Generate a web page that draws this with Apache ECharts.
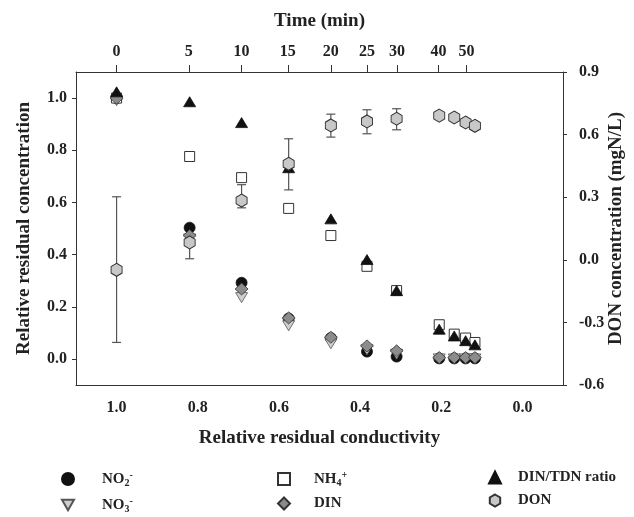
<!DOCTYPE html>
<html>
<head>
<meta charset="utf-8">
<script src="https://cdn.jsdelivr.net/npm/echarts@6/dist/echarts.min.js"></script>
<style>
html,body{margin:0;padding:0;background:#fff;}
#c{width:634px;height:517px;}
</style>
</head>
<body>
<div id="c"></div>
<script>
// Relative residual conductivity of each sample (x positions)
const conductivity = [1.0, 0.820, 0.692, 0.576, 0.472, 0.383, 0.310, 0.205, 0.168, 0.140, 0.117];
// Left axis: relative residual concentration
const no2 = [1.00, 0.503, 0.292, 0.155, 0.080, 0.028, 0.009, 0.002, 0.002, 0.002, 0.002];
const no3 = [0.99, 0.460, 0.235, 0.127, 0.058, 0.035, 0.018, 0.000, 0.000, 0.000, 0.000];
const nh4 = [1.00, 0.776, 0.695, 0.577, 0.473, 0.355, 0.262, 0.131, 0.095, 0.080, 0.063];
const din = [1.00, 0.473, 0.268, 0.157, 0.083, 0.050, 0.031, 0.005, 0.005, 0.005, 0.005];
const dinTdnRatio = [1.024, 0.986, 0.906, 0.733, 0.537, 0.381, 0.262, 0.114, 0.088, 0.070, 0.054];
// Right axis: DON concentration (mgN/L)
const don = [-0.048, 0.083, 0.284, 0.460, 0.644, 0.663, 0.676, 0.691, 0.682, 0.658, 0.642];
// DON error bars (only first seven samples)
const donErrX = [1.0, 0.820, 0.692, 0.576, 0.472, 0.383, 0.310];
const donLow  = [-0.396, 0.005, 0.249, 0.335, 0.588, 0.604, 0.623];
const donHigh = [0.302, 0.160, 0.360, 0.580, 0.698, 0.719, 0.724];
// Top axis: time (min) ticks and their conductivity positions
const timeLabels = [0, 5, 10, 15, 20, 25, 30, 40, 50];
const timePos = [1.0, 0.822, 0.692, 0.578, 0.472, 0.383, 0.309, 0.207, 0.138];
// Tick labels
const xTicks = [1.0, 0.8, 0.6, 0.4, 0.2, 0.0];
const yLeftTicks = [0.0, 0.2, 0.4, 0.6, 0.8, 1.0];

const FONT = 'Liberation Serif';
const TXT = '#222';
const AX = '#333';

function pairs(xs, ys) { return xs.map((x, i) => [x, ys[i]]); }

const hexPath = 'path://M0,-1 L0.866,-0.5 L0.866,0.5 L0,1 L-0.866,0.5 L-0.866,-0.5 Z';
const downTri = 'path://M-1,-0.866 L1,-0.866 L0,0.866 Z';

const labelBase = { fontFamily: FONT, fontWeight: 'bold', fontSize: 16, color: TXT };
const nameBase = { fontFamily: FONT, fontWeight: 'bold', fontSize: 19, color: TXT };

const chart = echarts.init(document.getElementById('c'), null, { renderer: 'canvas' });

const legendNames = {
  'NO2-': '{b|NO}{sub|2}{sup|-}',
  'NO3-': '{b|NO}{sub|3}{sup|-}',
  'NH4+': '{b|NH}{sub|4}{sup|+}',
  'DIN': '{b|DIN}',
  'DIN/TDN ratio': '{b|DIN/TDN ratio}',
  'DON': '{b|DON}'
};
function legendText(gap) {
  return {
    fontFamily: FONT, fontWeight: 'bold', fontSize: 15, color: TXT,
    rich: {
      g: { width: gap, lineHeight: 18 },
      b: { fontFamily: FONT, fontWeight: 'bold', fontSize: 15, color: TXT, lineHeight: 18 },
      sub: { fontFamily: FONT, fontWeight: 'bold', fontSize: 10, color: TXT, verticalAlign: 'bottom', lineHeight: 18 },
      sup: { fontFamily: FONT, fontWeight: 'bold', fontSize: 10, color: TXT, verticalAlign: 'top', lineHeight: 18 }
    }
  };
}
function mkLegend(names, left, gap) {
  return {
    data: names, orient: 'vertical', left: left, top: 470, height: 60, padding: 0,
    itemWidth: 12, itemHeight: 12, itemGap: 8,
    selectedMode: false, formatter: n => '{g|}' + legendNames[n], textStyle: legendText(gap)
  };
}

const option = {
  animation: false,
  backgroundColor: '#fff',
  grid: { left: 76, right: 71, top: 72, bottom: 132, containLabel: false, outerBoundsMode: 'none' },
  legend: [
    mkLegend(['NO2-', { name: 'NO3-', icon: downTri }], 61, 23),
    mkLegend(['NH4+', 'DIN'], 277, 19),
    mkLegend(['DIN/TDN ratio', 'DON'], 488, 12)
  ],
  xAxis: [
    {
      type: 'value', inverse: true, min: -0.1, max: 1.1, position: 'bottom',
      name: 'Relative residual conductivity', nameLocation: 'middle', nameGap: 44,
      nameTextStyle: nameBase,
      axisLine: { show: true, onZero: false, lineStyle: { color: AX, width: 1 } },
      axisTick: { show: false },
      splitLine: { show: false },
      axisLabel: Object.assign({ customValues: xTicks, margin: 15, formatter: v => v.toFixed(1) }, labelBase)
    },
    {
      type: 'value', inverse: true, min: -0.1, max: 1.1, position: 'top',
      name: 'Time (min)', nameLocation: 'middle', nameGap: 41,
      nameTextStyle: nameBase,
      axisLine: { show: true, onZero: false, lineStyle: { color: AX, width: 1 } },
      axisTick: { show: true, customValues: timePos, length: 7, inside: false, lineStyle: { color: AX } },
      splitLine: { show: false },
      axisLabel: Object.assign({
        customValues: timePos, margin: 12,
        formatter: v => {
          const i = timePos.findIndex(p => Math.abs(p - v) < 1e-6);
          return i >= 0 ? String(timeLabels[i]) : '';
        }
      }, labelBase)
    }
  ],
  yAxis: [
    {
      type: 'value', min: -0.1, max: 1.1, position: 'left',
      name: 'Relative residual concentration', nameLocation: 'middle', nameGap: 42, nameRotate: 90,
      nameTextStyle: nameBase,
      axisLine: { show: true, onZero: false, lineStyle: { color: AX, width: 1 } },
      axisTick: { show: true, customValues: yLeftTicks, length: 4, lineStyle: { color: AX } },
      splitLine: { show: false },
      axisLabel: Object.assign({ customValues: yLeftTicks, margin: 9, formatter: v => v.toFixed(1) }, labelBase)
    },
    {
      type: 'value', min: -0.6, max: 0.9, interval: 0.3, position: 'right',
      name: 'DON concentration (mgN/L)', nameLocation: 'middle', nameGap: 44, nameRotate: 90,
      nameMoveOverlap: false,
      nameTextStyle: nameBase,
      axisLine: { show: true, onZero: false, lineStyle: { color: AX, width: 1 } },
      axisTick: { show: true, length: 4, lineStyle: { color: AX } },
      splitLine: { show: false },
      axisLabel: Object.assign({ margin: 16, formatter: v => v.toFixed(1) }, labelBase)
    }
  ],
  series: [
    {
      name: 'DON error', type: 'custom', xAxisIndex: 0, yAxisIndex: 1, z: 1, silent: true,
      data: donErrX.map((x, i) => [x, donLow[i], donHigh[i]]),
      renderItem: function (params, api) {
        const x = api.value(0);
        const lo = api.coord([x, api.value(1)]);
        const hi = api.coord([x, api.value(2)]);
        const hw = 4.5;
        const st = { stroke: '#555', lineWidth: 1.2 };
        return {
          type: 'group',
          children: [
            { type: 'line', shape: { x1: lo[0], y1: lo[1], x2: hi[0], y2: hi[1] }, style: st },
            { type: 'line', shape: { x1: lo[0] - hw, y1: lo[1], x2: lo[0] + hw, y2: lo[1] }, style: st },
            { type: 'line', shape: { x1: hi[0] - hw, y1: hi[1], x2: hi[0] + hw, y2: hi[1] }, style: st }
          ]
        };
      }
    },
    {
      name: 'NO2-', type: 'scatter', xAxisIndex: 0, yAxisIndex: 0, z: 2,
      symbol: 'circle', symbolSize: 11,
      itemStyle: { color: '#111', borderColor: '#111', borderWidth: 0.8, opacity: 1 },
      data: pairs(conductivity, no2)
    },
    {
      name: 'NO3-', type: 'scatter', xAxisIndex: 0, yAxisIndex: 0, z: 3,
      symbol: downTri, symbolSize: [12, 10], symbolKeepAspect: false,
      itemStyle: { color: '#cfcfcf', borderColor: '#555', borderWidth: 0.8, opacity: 1 },
      data: pairs(conductivity, no3)
    },
    {
      name: 'NH4+', type: 'scatter', xAxisIndex: 0, yAxisIndex: 0, z: 4,
      symbol: 'rect', symbolSize: 10,
      itemStyle: { color: '#fff', borderColor: '#333', borderWidth: 1, opacity: 1 },
      data: pairs(conductivity, nh4)
    },
    {
      name: 'DIN', type: 'scatter', xAxisIndex: 0, yAxisIndex: 0, z: 5,
      symbol: 'diamond', symbolSize: [13, 12],
      itemStyle: { color: '#8c8c8c', borderColor: '#333', borderWidth: 0.8, opacity: 1 },
      data: pairs(conductivity, din)
    },
    {
      name: 'DIN/TDN ratio', type: 'scatter', xAxisIndex: 0, yAxisIndex: 0, z: 6,
      symbol: 'triangle', symbolSize: [12, 10],
      itemStyle: { color: '#111', borderColor: '#111', borderWidth: 0.8, opacity: 1 },
      data: pairs(conductivity, dinTdnRatio)
    },
    {
      name: 'DON', type: 'scatter', xAxisIndex: 0, yAxisIndex: 1, z: 7,
      symbol: hexPath, symbolSize: [11, 13],
      itemStyle: { color: '#c8c8c8', borderColor: '#333', borderWidth: 1, opacity: 1 },
      data: pairs(conductivity, don)
    }
  ]
};
chart.setOption(option);
</script>
</body>
</html>
